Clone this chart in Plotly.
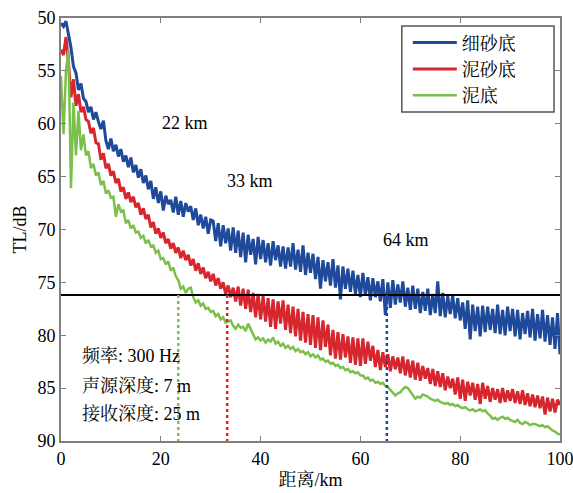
import numpy as np
import plotly.graph_objects as go

# distance axis (km), 0 to 100 at 0.5 km spacing
distance_km = np.round(np.arange(0, 100.01, 0.5), 2).tolist()

series_names = ["细砂底", "泥砂底", "泥底"]

tl_fine_sand = [
    50.5,
    50.8, 50.3, 51.6, 52.8, 54.6, 55.2, 56.8, 56.2, 57.6, 57.9,
    58.9, 58.4, 59.6, 58.9, 59.8, 60.5, 59.7, 61.6, 62.4, 61.4, 62.6,
    62.0, 63.1, 62.4, 63.6, 63.0, 64.1, 63.2, 64.6, 63.9,
    65.1, 64.3, 65.6, 64.9, 66.2, 65.4, 67.1, 66.0, 67.5, 66.4,
    68.2, 66.8, 67.6, 67.2, 68.4, 66.9, 68.6, 67.3, 68.8, 67.5,
    68.3, 67.8, 69.1, 68.0, 69.6, 68.6, 69.9, 68.8, 70.4, 69.1,
    69.2, 71.1, 69.4, 71.6, 69.6, 71.3, 69.9, 72.0, 69.8, 72.2,
    70.1, 72.6, 70.3, 73.1, 70.5, 72.4, 70.9, 73.3, 70.7, 72.8,
    71.0, 73.1, 71.3, 73.4, 71.1, 72.9, 71.5, 73.5, 71.6, 73.7,
    71.7, 73.5, 71.3, 73.8, 71.9, 74.0, 71.5, 74.3, 72.2, 74.1,
    72.3, 74.7, 72.6, 75.6, 72.9, 74.9, 73.1, 75.3, 72.8, 75.5,
    73.4, 76.6, 73.5, 75.6, 73.7, 75.9, 73.9, 76.1, 74.3, 76.4,
    74.1, 76.2, 74.5, 76.7, 74.6, 76.4, 74.9, 76.8, 74.7, 78.1,
    75.0, 77.4, 74.8, 77.1, 75.2, 76.9, 74.9, 77.3, 75.5, 77.6,
    75.3, 77.5, 75.6, 77.9, 75.9, 77.7, 75.6, 78.1, 76.1, 77.9,
    74.9, 78.2, 76.0, 78.3, 76.3, 78.0, 76.2, 78.4, 76.5, 78.6,
    76.9, 79.4, 76.7, 80.4, 77.1, 79.6, 77.3, 80.1, 77.2, 79.7,
    77.3, 79.5, 77.5, 79.8, 77.1, 79.9, 77.6, 80.0, 77.3, 79.6,
    77.5, 80.1, 77.6, 80.4, 77.9, 79.9, 77.7, 80.2, 77.5, 80.5,
    78.0, 80.3, 77.6, 80.6, 78.1, 80.9, 78.3, 81.3, 77.9, 81.8,
]

tl_muddy_sand = [
    53.0,
    53.5, 51.8, 54.2, 57.5, 55.8, 58.3, 57.2, 58.9, 58.4, 59.6,
    59.8, 60.9, 60.4, 61.8, 61.9, 63.4, 62.8, 64.2, 63.8, 64.9,
    64.5, 65.6, 65.2, 66.4, 66.0, 67.1, 66.5, 67.4, 66.9, 67.9,
    67.5, 68.6, 68.0, 69.0, 68.6, 69.8, 69.3, 70.4, 69.9, 70.8,
    70.3, 71.3, 70.9, 71.8, 71.3, 72.2, 71.7, 72.7, 72.0, 72.9,
    72.4, 73.4, 72.8, 73.9, 73.2, 74.2, 73.6, 74.6, 74.0, 74.9,
    74.2, 75.3, 74.6, 75.6, 75.0, 76.1, 75.3, 76.4, 75.5, 76.8,
    75.4, 77.2, 75.6, 77.5, 75.7, 77.8, 76.0, 78.3, 76.1, 78.5,
    76.3, 78.7, 76.5, 79.2, 76.6, 79.4, 76.8, 78.9, 76.7, 79.5,
    77.1, 79.8, 77.3, 80.1, 77.5, 80.5, 77.8, 80.7, 78.0, 80.9,
    78.1, 81.2, 78.3, 81.4, 78.6, 81.1, 79.0, 81.9, 79.5, 82.2,
    79.7, 82.3, 79.9, 82.1, 80.1, 82.6, 80.2, 82.8, 80.3, 82.9,
    80.3, 82.7, 80.6, 82.4, 81.0, 83.0, 81.4, 83.3, 81.6, 83.0,
    81.8, 83.4, 82.0, 83.2, 82.1, 83.6, 82.0, 83.8, 82.3, 84.0,
    82.4, 84.2, 82.6, 84.3, 82.9, 84.1, 83.1, 84.6, 83.2, 84.8,
    83.4, 84.9, 83.6, 85.2, 83.9, 85.0, 84.1, 85.6, 84.0, 86.0,
    84.2, 86.2, 84.4, 85.7, 84.5, 86.1, 84.6, 86.5, 84.5, 86.0,
    84.8, 86.3, 85.0, 86.1, 85.1, 86.4, 85.0, 86.3, 85.2, 86.2,
    85.1, 86.4, 85.3, 86.5, 85.2, 86.6, 85.5, 86.7, 85.6, 86.8,
    85.7, 86.9, 85.8, 87.5, 85.9, 87.2, 86.0, 87.3, 86.1, 86.6,
]

tl_mud = [
    55.5,
    61.0, 55.0, 53.0, 66.1, 58.0, 63.0, 58.8, 62.5, 61.0, 63.0,
    62.6, 64.2, 63.8, 64.9, 64.6, 65.8, 65.4, 66.6, 66.3, 67.0,
    66.9, 68.8, 67.6, 68.3, 68.2, 69.4, 69.1, 69.9, 69.6, 70.3,
    70.2, 70.8, 70.6, 71.3, 71.0, 71.6, 71.5, 72.2, 72.0, 72.8,
    72.7, 73.3, 73.0, 73.9, 73.6, 74.4, 74.8, 75.6, 75.4, 76.0,
    75.6, 75.5, 76.4, 76.9, 76.7, 77.2, 77.0, 77.5, 77.4, 77.8,
    77.7, 78.2, 78.0, 78.5, 78.3, 78.8, 78.7, 78.6, 79.1, 79.4,
    79.0, 79.3, 79.2, 79.6, 78.9, 79.4, 80.0, 80.4, 80.2, 80.5,
    80.3, 80.7, 80.4, 80.6, 80.2, 80.8, 80.6, 81.0, 80.8, 81.2,
    81.0, 81.3, 81.1, 81.5, 81.3, 81.6, 81.5, 81.8, 81.6, 82.0,
    81.8, 82.1, 81.9, 82.3, 82.2, 82.5, 82.4, 82.7, 82.6, 82.9,
    82.8, 83.1, 83.0, 83.3, 83.2, 83.5, 83.4, 83.6, 83.5, 83.8,
    83.8, 84.1, 84.0, 84.3, 84.2, 84.5, 84.4, 84.6, 84.5, 84.8,
    84.9, 85.2, 85.4, 85.7, 85.5, 85.4, 85.1, 84.9, 85.0, 85.3,
    85.6, 86.0, 85.8, 85.9, 85.6, 85.7, 85.8, 86.0, 86.1, 86.2,
    86.1, 86.3, 86.4, 86.5, 86.4, 86.6, 86.5, 86.7, 86.6, 86.8,
    86.9, 86.8, 87.0, 87.1, 87.0, 87.2, 87.1, 87.0, 87.2, 87.1,
    87.4, 87.6, 87.9, 87.8, 88.0, 87.8, 87.7, 87.9, 87.8, 88.0,
    88.1, 88.2, 88.0, 88.3, 88.4, 88.2, 88.3, 88.5, 88.4, 88.4,
    88.5, 88.6, 88.5, 88.7, 88.6, 88.8, 89.0, 89.1, 89.3, 89.4,
]

threshold_db = 76.2
crossing_km = [23.5, 33.3, 65.3]
range_labels = ["22 km", "33 km", "64 km"]
range_label_pos = [(24.9, 59.9), (37.9, 65.4), (69.2, 71.0)]
info_lines = ["频率: 300 Hz", "声源深度: 7 m", "接收深度: 25 m"]
info_y = [82.0, 84.8, 87.4]
x_ticks = [0, 20, 40, 60, 80, 100]
y_ticks = [50, 55, 60, 65, 70, 75, 80, 85, 90]

colors = ["#1f4a9c", "#d8262f", "#7bbf4c"]
widths = [3, 3, 2.5]
FONT = "Liberation Serif, Times New Roman, Noto Serif CJK SC, Noto Sans CJK SC, serif"

fig = go.Figure()
for name, vals, c, w in zip(series_names, [tl_fine_sand, tl_muddy_sand, tl_mud], colors, widths):
    fig.add_trace(go.Scatter(x=distance_km, y=vals, mode="lines", name=name,
                             line=dict(color=c, width=w)))

# threshold line
fig.add_trace(go.Scatter(x=[0, 100], y=[threshold_db, threshold_db], mode="lines",
                         line=dict(color="black", width=2), showlegend=False, hoverinfo="skip"))
# vertical dotted lines
for xk, c in zip(crossing_km, [colors[2], colors[1], colors[0]]):
    fig.add_trace(go.Scatter(x=[xk, xk], y=[threshold_db, 90], mode="lines",
                             line=dict(color=c, width=2.5, dash="dot"),
                             showlegend=False, hoverinfo="skip"))

for txt, (ax, ay) in zip(range_labels, range_label_pos):
    fig.add_annotation(x=ax, y=ay, text=txt, showarrow=False,
                       font=dict(family=FONT, size=18, color="black"))
for txt, yy in zip(info_lines, info_y):
    fig.add_annotation(x=3.8, y=yy, text=txt, showarrow=False, xanchor="left",
                       font=dict(family=FONT, size=18, color="black"))

# legend frame
fig.add_shape(type="rect", xref="paper", yref="paper",
              x0=0.683, x1=0.988, y0=0.778, y1=0.981,
              line=dict(color="#555555", width=1.5), fillcolor="white", layer="above")

axis_common = dict(showline=True, linecolor="#7f7f7f", linewidth=2, mirror="ticks",
                   ticks="inside", ticklen=5, tickcolor="#7f7f7f", tickwidth=1,
                   showgrid=False, zeroline=False, automargin=False,
                   ticklabeloverflow="allow",
                   tickfont=dict(family=FONT, size=18, color="black"))

fig.update_layout(
    width=573, height=493,
    margin=dict(l=61, r=13, t=18, b=52),
    paper_bgcolor="white", plot_bgcolor="white",
    font=dict(family=FONT, size=18, color="black"),
    xaxis=dict(range=[0, 100], tickvals=x_ticks,
               title=dict(text="距离/km", font=dict(family=FONT, size=18), standoff=6),
               **axis_common),
    yaxis=dict(range=[90, 50], tickvals=y_ticks,
               title=dict(text="TL/dB", font=dict(family=FONT, size=18), standoff=6),
               **axis_common),
    legend=dict(x=0.695, y=0.985, xanchor="left", yanchor="top",
                bgcolor="rgba(0,0,0,0)", borderwidth=0,
                font=dict(family=FONT, size=18), tracegroupgap=0,
                itemwidth=44),
    showlegend=True,
)

fig.write_html("out.html")
